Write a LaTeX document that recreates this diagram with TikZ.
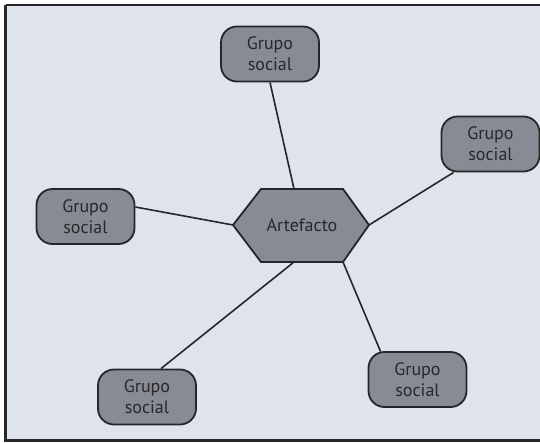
\documentclass[tikz,border=0pt]{standalone}
\usepackage{fontspec}
\setmainfont{PT Sans}
\usetikzlibrary{calc}
\definecolor{bgc}{RGB}{223,227,235}
\definecolor{nodec}{RGB}{136,139,147}
\definecolor{edgec}{RGB}{38,38,40}
\definecolor{txtc}{RGB}{40,40,44}
\tikzset{
  grp/.style={draw=edgec, fill=nodec, line width=1.8pt, rounded corners=16pt,
    minimum width=98pt, minimum height=55pt, align=center, inner sep=0pt,
    text=txtc, font=\fontsize{18}{21}\selectfont},
  link/.style={draw=edgec, line width=1.6pt},
  hexbox/.style={draw=edgec, fill=nodec, line width=1.8pt, line join=miter},
  hextext/.style={text=txtc, font=\fontsize{18}{21}\selectfont, inner sep=0pt}
}
\begin{document}
\begin{tikzpicture}[x=1pt,y=-1pt]
\useasboundingbox (0,0) rectangle (540,442);
% background panel and frame
\fill[bgc] (5,4) rectangle (560,442);
\draw[edgec, line width=3pt] (5.5,4.5) -- (5.5,440.5) -- (560,440.5);
\draw[edgec, line width=2pt] (5.5,4.5) -- (560,4.5);
% hexagon corners
\coordinate (hL) at (233,225);
\coordinate (hTL) at (261,189);
\coordinate (hTR) at (343,189);
\coordinate (hR) at (369,225);
\coordinate (hBR) at (343,262);
\coordinate (hBL) at (261,262);
\coordinate (hT) at (294,189);
\coordinate (hB) at (294,262);
\path[hexbox] (hL) -- (hTL) -- (hTR) -- (hR) -- (hBR) -- (hBL) -- cycle;
\node[hextext] (art) at (302,225) {Artefacto};
% social groups
\node[grp] (gt) at (270,54) {Grupo\\social};
\node[grp] (gr) at (490.5,144) {Grupo\\social};
\node[grp] (gl) at (85.5,216.5) {Grupo\\social};
\node[grp] (gbl) at (147,397) {Grupo\\social};
\node[grp] (gbr) at (417.5,379.5) {Grupo\\social};
% connectors
\draw[link] (gt.south) -- (hT);
\draw[link] ($(gr.south west)+(13,0)$) -- (hR);
\draw[link] ($(gl.east)+(0,-9.5)$) -- (hL);
\draw[link] ($(gbl.north)+(14,0)$) -- (hB);
\draw[link] ($(gbr.north west)+(13,0.5)$) -- (hBR);
\end{tikzpicture}
\end{document}
